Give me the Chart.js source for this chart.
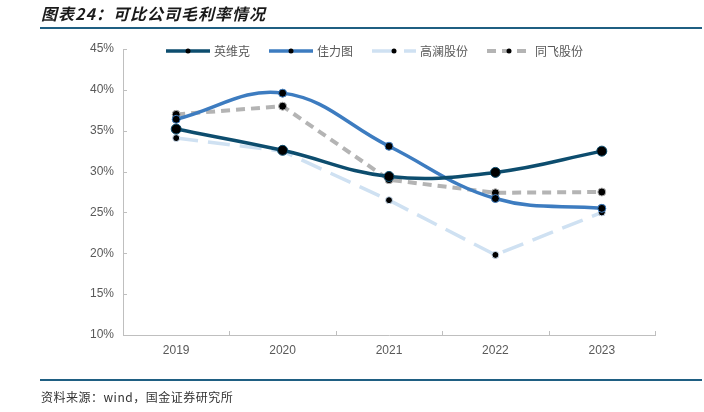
<!DOCTYPE html>
<html>
<head>
<meta charset="utf-8">
<script src="https://cdn.jsdelivr.net/npm/chart.js@4.4.1/dist/chart.umd.min.js"></script>
<style>
  html, body { margin: 0; padding: 0; background: #fff; }
  #wrap { position: relative; width: 704px; height: 412px; overflow: hidden; }
  #c { position: absolute; left: 0; top: 0; }
  .title { position: absolute; left: 41px; top: 2px; font: italic bold 16px/22px "Noto Sans CJK SC", sans-serif; color: #1a1a1a; white-space: nowrap; letter-spacing: 1px; }
  .rule { position: absolute; left: 40px; width: 662px; height: 2px; background: #1f5f82; }
  .foot { position: absolute; left: 41px; top: 389px; font: 12px/16px "Noto Sans CJK SC", sans-serif; color: #333; white-space: nowrap; letter-spacing: 0.5px; }
</style>
</head>
<body>
<div id="wrap">
  <canvas id="c" width="704" height="412"></canvas>
  <div class="title">图表24：可比公司毛利率情况</div>
  <div class="rule" style="top:27px"></div>
  <div class="rule" style="top:379px"></div>
  <div class="foot">资料来源：wind，国金证券研究所</div>
</div>
<script>
// ---- data ----
const years = ['2019', '2020', '2021', '2022', '2023'];
const seriesNames = ['英维克', '佳力图', '高澜股份', '同飞股份'];
const yingweike = [35.2, 32.6, 29.4, 29.9, 32.5];
const jialitu   = [36.4, 39.6, 33.1, 26.7, 25.5];
const gaolan    = [34.1, 32.5, 26.5, 19.8, 25.0];
const tongfei   = [37.0, 38.0, 29.0, 27.4, 27.5];
const yTicks    = [10, 15, 20, 25, 30, 35, 40, 45];

const legendPlugin = {
  id: 'customLegend',
  afterDraw(chart) {
    const ctx = chart.ctx;
    let x = 166;
    const y = 51;
    ctx.save();
    ctx.font = '12px "Noto Sans CJK SC", sans-serif';
    chart.data.datasets.forEach((ds) => {
      const len = 44;
      ctx.save();
      ctx.strokeStyle = ds.borderColor;
      ctx.lineWidth = ds.borderWidth;
      ctx.setLineDash(ds.borderDash || []);
      ctx.beginPath();
      ctx.moveTo(x, y);
      ctx.lineTo(x + len, y);
      ctx.stroke();
      ctx.setLineDash([]);
      ctx.fillStyle = '#000';
      ctx.beginPath();
      ctx.arc(x + len / 2, y, 2.5, 0, Math.PI * 2);
      ctx.fill();
      ctx.restore();
      const tx = x + len + 4;
      ctx.fillStyle = '#595959';
      ctx.textBaseline = 'middle';
      ctx.textAlign = 'left';
      ctx.fillText(ds.label, tx, y);
      x = tx + ctx.measureText(ds.label).width + 19;
    });
    ctx.restore();
  }
};

const tickPlugin = {
  id: 'innerTicks',
  afterDraw(chart) {
    const ctx = chart.ctx;
    const ys = chart.scales.y;
    const a = chart.chartArea;
    ctx.save();
    ctx.strokeStyle = '#bfbfbf';
    ctx.lineWidth = 1;
    ctx.beginPath();
    yTicks.forEach(v => {
      const py = Math.round(ys.getPixelForValue(v)) + 0.5;
      ctx.moveTo(a.left, py);
      ctx.lineTo(a.left + 4, py);
    });
    const step = (a.right - a.left) / years.length;
    for (let i = 0; i <= years.length; i++) {
      const px = Math.round(a.left + i * step) + 0.5;
      ctx.moveTo(px, a.bottom);
      ctx.lineTo(px, a.bottom - 4);
    }
    ctx.stroke();
    ctx.restore();
  }
};

new Chart(document.getElementById('c'), {
  type: 'line',
  data: {
    labels: years,
    datasets: [
      { label: seriesNames[0], data: yingweike, borderColor: '#0d4d6e', borderWidth: 3.5, tension: 0.4,
        pointRadius: 5, pointBackgroundColor: '#000', pointBorderColor: '#0d4d6e', pointBorderWidth: 1, order: 1 },
      { label: seriesNames[1], data: jialitu, borderColor: '#3d7cc0', borderWidth: 3.5, tension: 0.4,
        pointRadius: 4, pointBackgroundColor: '#000', pointBorderColor: '#3d7cc0', pointBorderWidth: 1, order: 2 },
      { label: seriesNames[2], data: gaolan, borderColor: '#cfe1f2', borderWidth: 3.5, tension: 0, borderDash: [22, 10],
        pointRadius: 3.5, pointBackgroundColor: '#000', pointBorderColor: '#cfe1f2', pointBorderWidth: 1, order: 4 },
      { label: seriesNames[3], data: tongfei, borderColor: '#b4b4b4', borderWidth: 4, tension: 0, borderDash: [9, 6],
        pointRadius: 4, pointBackgroundColor: '#000', pointBorderColor: '#b4b4b4', pointBorderWidth: 1, order: 3 }
    ]
  },
  options: {
    responsive: false,
    animation: false,
    layout: { padding: { left: 0, right: 49, top: 49, bottom: 0 } },
    plugins: { legend: { display: false }, tooltip: { enabled: false } },
    scales: {
      x: {
        offset: true,
        grid: { display: true, drawOnChartArea: false, drawTicks: false, offset: true },
        border: { display: true, color: '#bfbfbf', width: 1 },
        ticks: { color: '#595959', font: { family: '"Liberation Sans", Arial, sans-serif', size: 12 }, padding: 8 },
        afterFit(s) { s.height = 77; }
      },
      y: {
        min: 10, max: 45,
        grid: { display: true, drawOnChartArea: false, drawTicks: false },
        border: { display: true, color: '#bfbfbf', width: 1 },
        ticks: { stepSize: 5, color: '#595959', font: { family: '"Liberation Sans", Arial, sans-serif', size: 12 }, padding: 9,
                 callback: v => v + '%' },
        afterFit(s) { s.width = 123; }
      }
    }
  },
  plugins: [legendPlugin, tickPlugin]
});
</script>
</body>
</html>
